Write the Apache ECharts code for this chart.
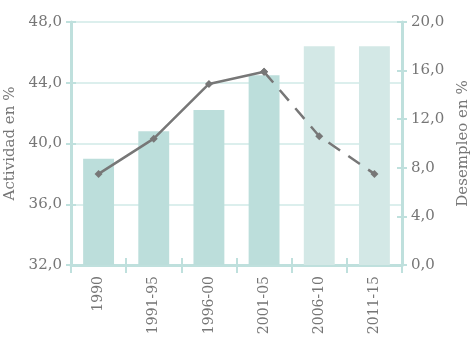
<!DOCTYPE html>
<html>
<head>
<meta charset="utf-8">
<script src="https://cdn.jsdelivr.net/npm/echarts@6/dist/echarts.min.js"></script>
<style>
  html, body { margin: 0; padding: 0; background: #fff; }
  #chart { width: 470px; height: 339px; }
</style>
</head>
<body>
<div id="chart"></div>
<script>
// Periods on the category axis
const categories = ['1990', '1991-95', '1996-00', '2001-05', '2006-10', '2011-15'];
// Activity rate (%), left axis
const actividad = [39.0, 40.8, 42.2, 44.5, 46.4, 46.4];
// Unemployment rate (%), right axis
const desempleo = [7.5, 10.4, 14.9, 15.9, 10.6, 7.5];
// Index of the last observed point; later points are projections
const lastObserved = 3;

const AXIS = '#bfe0dd';
const GRIDLINE = '#dcefed';
const TEXT = '#767676';
const FONT = 'DejaVu Serif';
const fmt = v => v.toFixed(1).replace('.', ',');

const solidLine = desempleo.map((v, i) => (i <= lastObserved ? v : null));
const dashedLine = desempleo.map((v, i) => (i >= lastObserved ? v : null));

const grid = { left: 71, right: 68, top: 22, bottom: 74, containLabel: false, outerBoundsMode: 'none' };

function yAxisBase(side, min, max, extra) {
  return Object.assign({
    type: 'value', position: side, min: min, max: max, interval: 4,
    axisLine: { show: true, lineStyle: { color: AXIS, width: 3 } },
    axisTick: { show: true, length: 5, lineStyle: { color: AXIS, width: 2 } },
    splitLine: { show: false }
  }, extra);
}

const option = {
  animation: false,
  grid: grid,
  xAxis: [
    {
      type: 'category', data: categories, position: 'bottom',
      axisLine: { show: true, lineStyle: { color: AXIS, width: 3 } },
      axisTick: { show: true, interval: 0, alignWithLabel: false, length: 8, lineStyle: { color: AXIS, width: 2 } },
      axisLabel: { interval: 0, rotate: 90, color: TEXT, fontFamily: FONT, fontSize: 14, margin: 11 }
    },
    {
      type: 'category', data: categories, position: 'bottom', offset: 0,
      axisLine: { show: false },
      axisTick: { show: true, interval: 0, inside: true, length: 7, lineStyle: { color: AXIS, width: 2 } },
      axisLabel: { show: false }
    }
  ],
  yAxis: [
    yAxisBase('left', 32, 48, {
      name: 'Actividad en %', nameLocation: 'middle', nameRotate: 90, nameGap: 44,
      nameTextStyle: { color: TEXT, fontFamily: FONT, fontSize: 15 },
      axisLabel: { color: TEXT, fontFamily: FONT, fontSize: 15, margin: 9, formatter: fmt },
      splitLine: { show: true, lineStyle: { color: GRIDLINE, width: 2 } }
    }),
    yAxisBase('right', 0, 20, {
      name: 'Desempleo en %', nameLocation: 'middle', nameRotate: 90, nameGap: 52,
      nameTextStyle: { color: TEXT, fontFamily: FONT, fontSize: 15 },
      axisLabel: { color: TEXT, fontFamily: FONT, fontSize: 15, margin: 9, formatter: fmt }
    }),
    yAxisBase('left', 32, 48, {
      axisLine: { show: false },
      axisTick: { show: true, inside: true, length: 5, lineStyle: { color: AXIS, width: 2 } },
      axisLabel: { show: false }
    }),
    yAxisBase('right', 0, 20, {
      axisLine: { show: false },
      axisTick: { show: true, inside: true, length: 5, lineStyle: { color: AXIS, width: 2 } },
      axisLabel: { show: false }
    })
  ],
  series: [
    {
      type: 'bar', name: 'Actividad', xAxisIndex: 0, yAxisIndex: 0,
      data: actividad, barWidth: '56%',
      itemStyle: {
        color: p => (p.dataIndex <= lastObserved ? '#bcdedb' : '#d3e8e6')
      }
    },
    {
      type: 'line', name: 'Desempleo', xAxisIndex: 0, yAxisIndex: 1,
      data: solidLine, symbol: 'diamond', symbolSize: 8,
      lineStyle: { color: '#777777', width: 2.5 },
      itemStyle: { color: '#777777' }, z: 5
    },
    {
      type: 'line', name: 'Desempleo (proyección)', xAxisIndex: 0, yAxisIndex: 1,
      data: dashedLine, symbol: 'diamond', symbolSize: 8,
      lineStyle: { color: '#777777', width: 2.5, type: [14, 10] },
      itemStyle: { color: '#777777' }, z: 5
    }
  ]
};

echarts.init(document.getElementById('chart'), null, { renderer: 'canvas' }).setOption(option);
</script>
</body>
</html>
